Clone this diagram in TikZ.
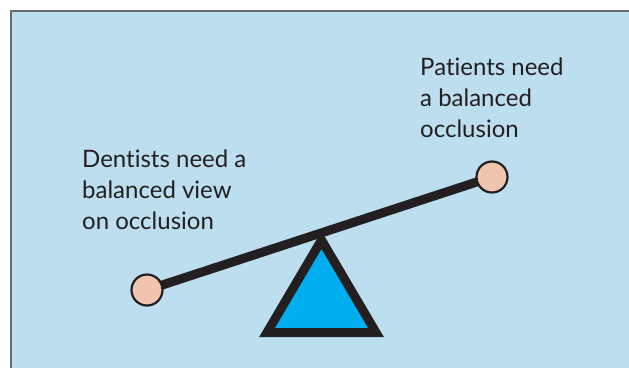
\documentclass[tikz,border=0pt]{standalone}
\usepackage{fontspec}
\setmainfont{Lato}[Ligatures={NoCommon}]
\usepackage{tikz}
\usetikzlibrary{positioning}
\usepackage{xcolor}
\definecolor{panelblue}{RGB}{188,222,238}
\definecolor{framegray}{RGB}{105,108,112}
\definecolor{inkdark}{RGB}{35,31,32}
\definecolor{fulcrumblue}{RGB}{0,174,239}
\definecolor{ballpeach}{RGB}{240,196,174}
\tikzset{%
	every ball/.style={
		circle,
		draw=inkdark,
		fill=ballpeach,
		line width=2.2pt,
		minimum size=31pt,
		inner sep=0pt
	},
	every caption/.style={
		anchor=north west,
		align=left,
		inner sep=0pt,
		text=inkdark,
		font=\fontsize{24}{31}\selectfont
	},
}
\begin{document}
\begin{tikzpicture}[
				x=1pt, y=-1pt,
				beam/.style={draw=inkdark, line width=9pt},
				fulcrum/.style={draw=inkdark, fill=fulcrumblue, line width=9pt, line join=miter}
				]
				\useasboundingbox (0,0) rectangle (629,368);
				\fill[panelblue] (11,11) rectangle (629,368);
				\draw[framegray, line width=2pt] (11,368) -- (11,11) -- (629,11);
				
				% seesaw
				\coordinate (lowend) at (147,290);
				\coordinate (highend) at (492,177);
				\draw[fulcrum] (321.5,240) -- (376,332.5) -- (267,332.5) -- cycle;
				\draw[beam] (lowend) -- (highend);
				\node[every ball] (leftball) at (lowend) {};
				\node[every ball] (rightball) at (highend) {};
				
				% labels
				\node[every caption] (dentists) at (82,150) {Dentists need a\\balanced view\\on occlusion};
				\node[every caption] (patients) at (420,58) {Patients need\\a balanced\\occlusion};
				
			\end{tikzpicture}
\end{document}
